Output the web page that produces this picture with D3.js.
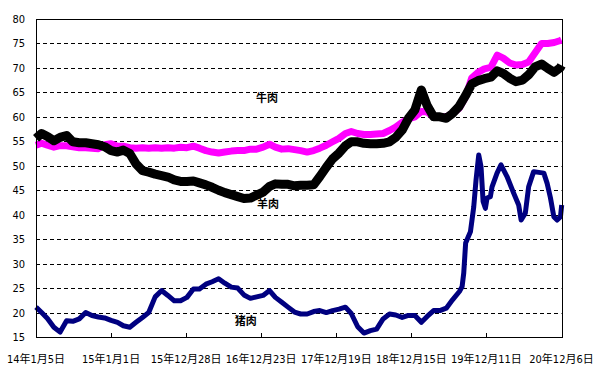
<!DOCTYPE html>
<html>
<head>
<meta charset="utf-8">
<script src="https://cdn.jsdelivr.net/npm/d3@7"></script>
<style>
  body { margin: 0; background: #fff; }
  text { font-family: "Liberation Sans Narrow", "DejaVu Sans Condensed", "Liberation Sans", "Noto Sans CJK SC", sans-serif; }
</style>
</head>
<body>
<div id="chart"></div>
<script>
// tick dates and their labels (x axis)
var tickDates = ["2014-01-05", "2015-01-01", "2015-12-28", "2016-12-23",
                 "2017-12-19", "2018-12-15", "2019-12-11", "2020-12-06"];
var tickLabels = ["14年1月5日", "15年1月1日", "15年12月28日", "16年12月23日",
                  "17年12月19日", "18年12月15日", "19年12月11日", "20年12月6日"];
var yTicks = [15, 20, 25, 30, 35, 40, 45, 50, 55, 60, 65, 70, 75, 80];

// monthly readings, Jan 2014 .. Dec 2020, plus last day
var beef = [54.2, 54.6, 54.2, 53.8, 54.1, 54.1, 53.9, 53.7, 53.7, 53.6, 53.5, 54.3,
            54.5, 54.0, 54.0, 53.7, 53.6, 53.7, 53.6, 53.7, 53.6, 53.7, 53.6, 53.8,
            53.7, 54.0, 53.6, 53.1, 52.8, 52.6, 52.8, 53.0, 53.1, 53.1, 53.4, 53.4,
            53.8, 54.4, 53.8, 53.4, 53.5, 53.3, 53.1, 52.8, 53.1, 53.6, 54.2, 54.9,
            55.6, 56.6, 57.0, 56.6, 56.4, 56.4, 56.5, 56.6, 57.2, 57.9, 58.9, 59.6,
            60.0, 61.1, 61.0, 60.0, 60.0, 60.0, 60.7, 61.7, 64.0, 67.9, 69.1, 69.8,
            70.1, 72.6, 72.0, 71.0, 70.6, 70.7, 71.2, 73.1, 75.0, 75.0, 75.2, 75.6, 75.7];
var mutton = [55.6, 56.6, 56.0, 55.1, 55.8, 56.2, 54.9, 54.7, 54.7, 54.5, 54.3, 53.9,
              53.1, 52.8, 53.2, 52.5, 50.4, 49.0, 48.7, 48.3, 48.0, 47.7, 47.1, 46.8,
              46.8, 46.9, 46.5, 46.1, 45.6, 45.0, 44.5, 44.1, 43.7, 43.3, 43.4, 44.0,
              44.6, 45.8, 46.3, 46.2, 46.2, 45.9, 46.0, 46.0, 46.1, 47.8, 49.7, 51.4,
              52.6, 54.1, 54.9, 54.9, 54.6, 54.5, 54.5, 54.6, 54.9, 55.8, 57.3, 59.7,
              61.4, 65.5, 62.3, 60.0, 60.0, 59.7, 60.7, 62.1, 64.3, 66.7, 67.4, 67.8,
              68.1, 69.4, 68.9, 67.9, 67.2, 67.5, 68.6, 70.2, 70.8, 69.9, 69.1, 70.1, 70.5];

// pork: monthly Jan 2014 .. Jul 2019
var pork = [21.1, 20.0, 18.8, 17.0, 16.0, 18.3, 18.2, 18.7, 20.0, 19.4, 19.1, 18.9,
            18.4, 18.0, 17.3, 17.0, 18.0, 19.0, 20.0, 23.2, 24.5, 23.5, 22.4, 22.4,
            23.1, 24.8, 24.8, 25.8, 26.3, 26.9, 26.0, 25.2, 25.0, 23.6, 22.9, 23.2,
            23.5, 24.5, 23.1, 22.1, 21.1, 20.1, 19.7, 19.7, 20.2, 20.4, 20.0, 20.4,
            20.7, 21.1, 19.8, 17.1, 15.8, 16.3, 16.6, 18.7, 19.7, 19.5, 19.0, 19.4,
            19.4, 18.0, 19.2, 20.4, 20.4, 20.9, 22.6];
// pork: denser readings Aug 2019 .. Dec 2020
var porkLateDates = ["2019-08-03", "2019-08-16", "2019-08-24", "2019-09-02", "2019-09-25",
                     "2019-10-11", "2019-10-22", "2019-11-04", "2019-11-15", "2019-11-25",
                     "2019-12-06", "2019-12-14", "2019-12-30", "2020-01-07", "2020-01-31",
                     "2020-02-19", "2020-03-19", "2020-04-20", "2020-05-14", "2020-05-26",
                     "2020-06-15", "2020-07-01", "2020-07-25", "2020-09-12", "2020-09-28",
                     "2020-10-14", "2020-10-30", "2020-11-15", "2020-12-01", "2020-12-07"];
var porkLate = [24.3, 25.3, 28.1, 34.2, 36.5, 41.6, 47.1, 52.2, 49.8, 42.7,
                41.3, 43.4, 43.7, 45.7, 48.5, 50.2, 47.8, 44.4, 42.0, 38.9,
                40.3, 45.7, 48.8, 48.5, 46.4, 43.4, 39.6, 38.9, 39.6, 42.0];

var width = 612, height = 380;
var margin = {top: 19, right: 50, bottom: 43, left: 36};

var parse = d3.timeParse("%Y-%m-%d");
var start = parse(tickDates[0]), end = parse(tickDates[tickDates.length - 1]);

var months = d3.timeMonth.range(new Date(2014, 0, 1), new Date(2021, 0, 1));
months[0] = start;
var monthDates = months.concat([end]);

var svg = d3.select("#chart").append("svg")
  .attr("width", width)
  .attr("height", height);

var x = d3.scaleTime()
  .domain([start, end])
  .range([margin.left, width - margin.right - 0.5]);

var y = d3.scaleLinear()
  .domain([15, 80])
  .range([height - margin.bottom, margin.top]);

// dashed grid
svg.append("g")
  .selectAll("line")
  .data(yTicks.filter(function(d) { return d > 15 && d < 80; }))
  .enter().append("line")
    .attr("x1", margin.left)
    .attr("x2", x(end))
    .attr("y1", function(d) { return Math.round(y(d)) + 0.5; })
    .attr("y2", function(d) { return Math.round(y(d)) + 0.5; })
    .attr("stroke", "#000")
    .attr("stroke-width", 1)
    .attr("stroke-dasharray", "4,3");

// y labels
svg.append("g")
  .selectAll("text")
  .data(yTicks)
  .enter().append("text")
    .attr("x", 25)
    .attr("y", function(d) { return y(d) + 4; })
    .attr("text-anchor", "end")
    .attr("font-size", "11px")
    .text(function(d) { return d; });

// x axis: ticks inside, labels below
var xAxis = svg.append("g")
  .attr("transform", "translate(0," + y(15) + ")");
xAxis.selectAll("line")
  .data(tickDates)
  .enter().append("line")
    .attr("x1", function(d) { return Math.round(x(parse(d))) + 0.5; })
    .attr("x2", function(d) { return Math.round(x(parse(d))) + 0.5; })
    .attr("y1", 0)
    .attr("y2", -4)
    .attr("stroke", "#000");
xAxis.selectAll("text")
  .data(tickDates)
  .enter().append("text")
    .attr("x", function(d) { return x(parse(d)); })
    .attr("y", 26)
    .attr("text-anchor", "middle")
    .attr("font-size", "11px")
    .text(function(d, i) { return tickLabels[i]; });

var line = d3.line()
  .x(function(d) { return x(d[0]); })
  .y(function(d) { return y(d[1]); });

var porkPts = pork.map(function(v, i) { return [months[i], v]; })
  .concat(porkLate.map(function(v, i) { return [parse(porkLateDates[i]), v]; }));
var beefPts = beef.map(function(v, i) { return [monthDates[i], v]; });
var muttonPts = mutton.map(function(v, i) { return [monthDates[i], v]; });

svg.append("path")
  .datum(porkPts)
  .attr("d", line)
  .attr("fill", "none")
  .attr("stroke", "#000080")
  .attr("stroke-width", 5)
  .attr("stroke-linejoin", "round");

svg.append("path")
  .datum(beefPts)
  .attr("d", line)
  .attr("fill", "none")
  .attr("stroke", "#ff00ff")
  .attr("stroke-width", 7)
  .attr("stroke-linejoin", "round");

svg.append("path")
  .datum(muttonPts)
  .attr("d", line)
  .attr("fill", "none")
  .attr("stroke", "#000")
  .attr("stroke-width", 9)
  .attr("stroke-linejoin", "round");

// plot frame
svg.append("rect")
  .attr("x", margin.left + 0.5)
  .attr("y", margin.top + 0.5)
  .attr("width", Math.round(x(end)) - margin.left)
  .attr("height", y(15) - margin.top)
  .attr("fill", "none")
  .attr("stroke", "#000")
  .attr("stroke-width", 1);

// series names
var names = [
  {name: "牛肉", date: "2017-01-20", value: 63.9},
  {name: "羊肉", date: "2017-01-25", value: 42.2},
  {name: "猪肉", date: "2016-10-10", value: 18.2}
];
svg.append("g")
  .selectAll("text")
  .data(names)
  .enter().append("text")
    .attr("x", function(d) { return x(parse(d.date)); })
    .attr("y", function(d) { return y(d.value) + 4; })
    .attr("text-anchor", "middle")
    .attr("font-size", "11px")
    .attr("font-weight", "bold")
    .style("font-family", "'Noto Sans CJK SC', sans-serif")
    .text(function(d) { return d.name; });
</script>
</body>
</html>
